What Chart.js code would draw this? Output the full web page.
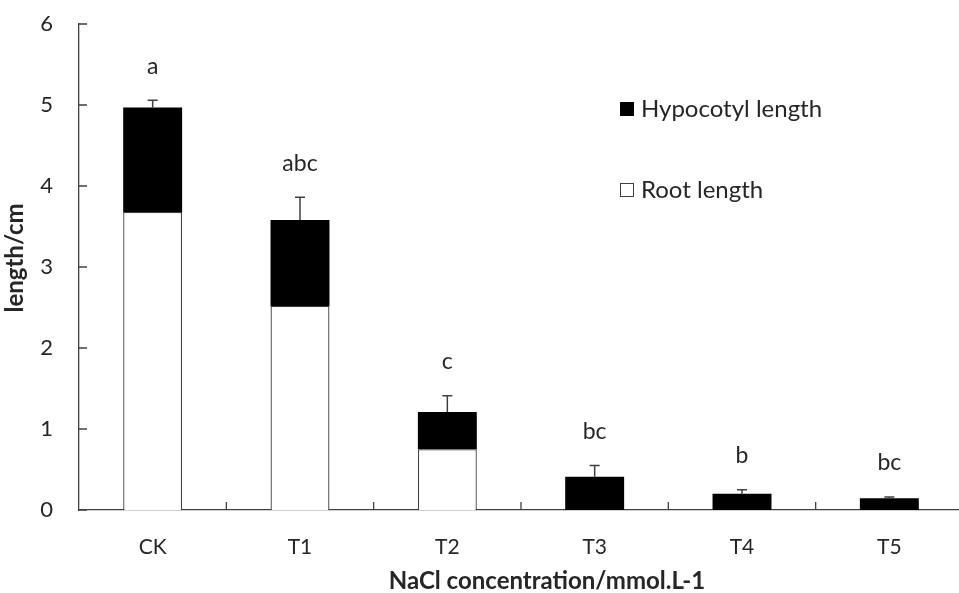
<!DOCTYPE html>
<html><head><meta charset="utf-8">
<script src="https://cdn.jsdelivr.net/npm/chart.js@4/dist/chart.umd.min.js"></script>
<style>html,body{margin:0;padding:0;background:#fff;overflow:hidden}#wrap{width:980px;height:593px}</style>
</head><body><div id="wrap"><canvas id="c" width="980" height="593"></canvas></div>
<script>
const categories = ['CK', 'T1', 'T2', 'T3', 'T4', 'T5'];
const rootLength = [3.68, 2.52, 0.75, 0, 0, 0];
const hypocotylLength = [1.29, 1.06, 0.46, 0.41, 0.20, 0.145];
const errorUpper = [0.09, 0.28, 0.20, 0.14, 0.05, 0.015];
const letters = ['a', 'abc', 'c', 'bc', 'b', 'bc'];
const yTicks = [0, 1, 2, 3, 4, 5, 6];
const xTitle = 'NaCl concentration/mmol.L-1';
const yTitle = 'length/cm';

const TXT = '#262626';
const AX = '#404040';
const FONT = 'Lato';

const extras = {
  id: 'extras',
  afterDatasetsDraw(chart) {
    const ctx = chart.ctx;
    const xs = chart.scales.x, ys = chart.scales.y;
    const area = chart.chartArea;
    ctx.save();
    // error bars + letters
    categories.forEach((c, i) => {
      const total = rootLength[i] + hypocotylLength[i];
      const x = xs.getPixelForValue(i);
      const y0 = ys.getPixelForValue(total);
      const y1 = ys.getPixelForValue(total + errorUpper[i]);
      ctx.strokeStyle = AX;
      ctx.lineWidth = 1.5;
      ctx.beginPath();
      ctx.moveTo(x, y0); ctx.lineTo(x, y1);
      ctx.moveTo(x - 5, y1); ctx.lineTo(x + 5, y1);
      ctx.stroke();
      ctx.fillStyle = TXT;
      ctx.font = '23px ' + FONT;
      ctx.textAlign = 'center';
      ctx.textBaseline = 'middle';
      ctx.fillText(letters[i], x, y1 - 34);
    });
    // inward tick marks
    ctx.strokeStyle = AX;
    ctx.lineWidth = 1.3;
    ctx.beginPath();
    yTicks.forEach(v => {
      const y = ys.getPixelForValue(v);
      ctx.moveTo(area.left, y); ctx.lineTo(area.left + 8, y);
    });
    for (let i = 0; i < categories.length - 1; i++) {
      const xb = (xs.getPixelForValue(i) + xs.getPixelForValue(i + 1)) / 2;
      ctx.moveTo(xb, area.bottom); ctx.lineTo(xb, area.bottom - 8);
    }
    ctx.stroke();
    // legend
    const ds = chart.data.datasets;
    const legendItems = [
      { ds: ds[1], y: 109 },
      { ds: ds[0], y: 190 }
    ];
    legendItems.forEach(it => {
      ctx.fillStyle = it.ds.backgroundColor;
      ctx.fillRect(620, it.y - 7, 14, 14);
      ctx.strokeStyle = it.ds.borderColor;
      ctx.lineWidth = 1;
      ctx.strokeRect(620.5, it.y - 6.5, 13, 13);
      ctx.fillStyle = TXT;
      ctx.font = '24px ' + FONT;
      ctx.textAlign = 'left';
      ctx.textBaseline = 'middle';
      ctx.fillText(it.ds.label, 641, it.y);
    });
    // axis titles
    ctx.fillStyle = TXT;
    ctx.font = 'bold 24px ' + FONT;
    ctx.textAlign = 'center';
    ctx.textBaseline = 'middle';
    ctx.fillText(xTitle, 547, 581);
    ctx.translate(15, 258);
    ctx.rotate(-Math.PI / 2);
    ctx.fillText(yTitle, 0, 0);
    ctx.restore();
  }
};

new Chart(document.getElementById('c'), {
  type: 'bar',
  data: {
    labels: categories,
    datasets: [
      { label: 'Root length', data: rootLength, backgroundColor: '#ffffff', borderColor: AX, borderWidth: 1.3 },
      { label: 'Hypocotyl length', data: hypocotylLength, backgroundColor: '#000000', borderColor: '#000000', borderWidth: 0 }
    ]
  },
  options: {
    responsive: false,
    animation: false,
    devicePixelRatio: 1,
    layout: { padding: { top: 24, right: 17, left: 0, bottom: 0 } },
    datasets: { bar: { categoryPercentage: 1, barPercentage: 0.4 } },
    plugins: { legend: { display: false }, tooltip: { enabled: false } },
    scales: {
      x: {
        stacked: true,
        grid: { display: false, drawTicks: false },
        border: { color: AX, width: 1.3 },
        ticks: { color: TXT, font: { family: FONT, size: 21 }, padding: 25 },
        afterFit(s) { s.height = 83; s.paddingLeft = 0; s.paddingRight = 0; }
      },
      y: {
        stacked: true,
        min: 0, max: 6,
        afterBuildTicks(s) { s.ticks = yTicks.map(v => ({ value: v })); },
        grid: { display: false, drawTicks: false },
        border: { color: AX, width: 1.3 },
        ticks: { color: TXT, font: { family: FONT, size: 22 }, padding: 26 },
        afterFit(s) { s.width = 79; s.paddingTop = 0; s.paddingBottom = 0; }
      }
    }
  },
  plugins: [extras]
});
</script>
</body></html>
